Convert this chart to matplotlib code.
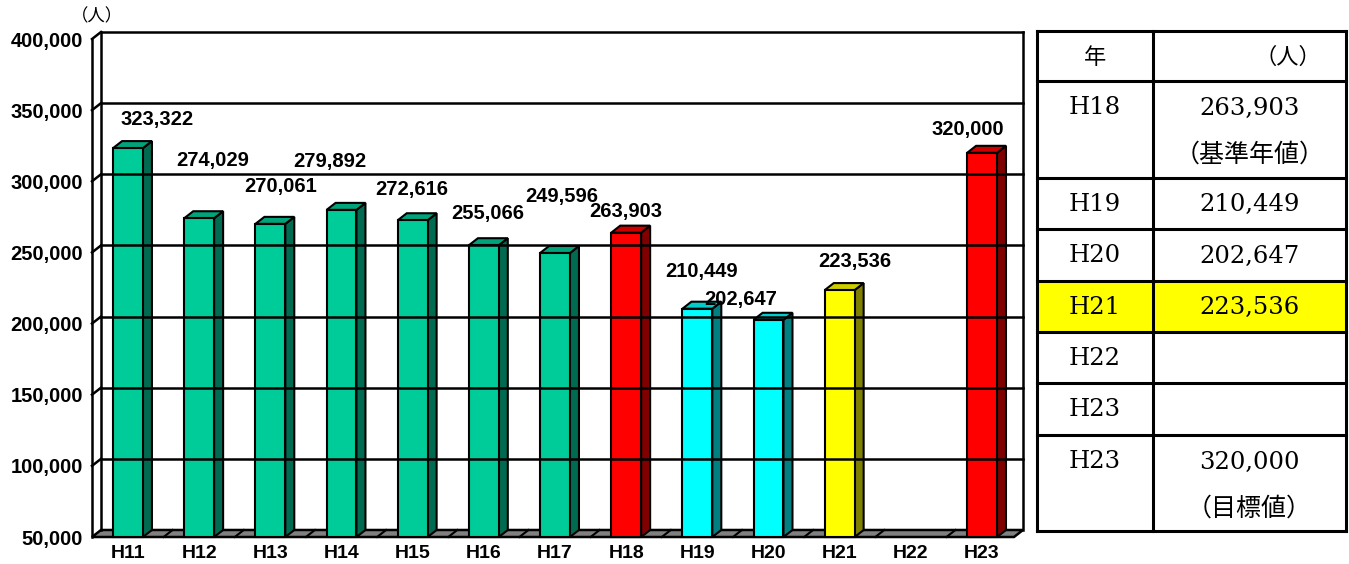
import matplotlib
matplotlib.use("Agg")
import matplotlib.pyplot as plt
from matplotlib.patches import Polygon, Rectangle

# ---- data ----
years = ["H11", "H12", "H13", "H14", "H15", "H16", "H17",
         "H18", "H19", "H20", "H21", "H22", "H23"]
visitors = [323322, 274029, 270061, 279892, 272616, 255066, 249596,
            263903, 210449, 202647, 223536, None, 320000]
y_ticks = [50000, 100000, 150000, 200000, 250000, 300000, 350000, 400000]

table_years = ["H18", "H19", "H20", "H21", "H22", "H23", "H23"]
table_values = ["263,903", "210,449", "202,647", "223,536", "", "", "320,000"]
table_notes = ["（基準年値）", "", "", "", "", "", "（目標値）"]

# ---- style ----
GREEN = ("#00CC99", "#00A37A", "#006B50")
RED = ("#FF0000", "#CC0000", "#800000")
CYAN = ("#00FFFF", "#00CCCC", "#008080")
YELLOW = ("#FFFF00", "#CCCC00", "#808000")
bar_colors = [GREEN] * 7 + [RED, CYAN, CYAN, YELLOW, None, RED]
# label offsets from bar top (pixels, right / up)
label_offsets = [(29, 29), (14, 58), (10, 37), (-12, 48), (-1, 31), (4, 32), (7, 57),
                 (0, 21), (4, 37), (-28, 20), (15, 29), None, (-14, 23)]

W, H = 1349, 564
fig = plt.figure(figsize=(W / 100, H / 100), dpi=100)

step = 71.17                     # px per category
x_lo = (92 - 128) / step
x_hi = (1023 - 128) / step
dx = 9 / step                    # depth offset (x data units)
dy = 4930                        # depth offset (y data units)
bw = 0.42
base = 50000
top = 400000

ax = fig.add_axes([92 / W, (H - 537) / H, (1023 - 92) / W, (537 - 32) / H])
ax.set_xlim(x_lo, x_hi)
ax.set_ylim(base, top + dy)
ax.set_facecolor("none")
for s in ax.spines.values():
    s.set_visible(False)

lw = 1.8
kw = dict(color="black", lw=lw, clip_on=False, solid_capstyle="projecting")
# back wall gridlines and frame
for v in y_ticks[1:]:
    ax.plot([x_lo + dx, x_hi], [v + dy, v + dy], **kw)
    ax.plot([x_lo, x_lo + dx], [v, v + dy], **kw)
ax.plot([x_lo + dx, x_lo + dx], [base + dy, top + dy], **kw)
ax.plot([x_lo, x_lo], [base, top], **kw)
ax.plot([x_hi, x_hi], [base + dy, top + dy], **kw)

# floor
floor = Polygon([(x_lo, base), (x_hi - dx, base), (x_hi, base + dy), (x_lo + dx, base + dy)],
                closed=True, facecolor="#808080", edgecolor="black", lw=lw, clip_on=False)
ax.add_patch(floor)
for i in range(len(years) - 1):
    xb = i + 0.5
    ax.plot([xb, xb + dx], [base, base + dy], color="black", lw=1.5, clip_on=False)

# bars
for i, (v, c) in enumerate(zip(visitors, bar_colors)):
    if v is None:
        continue
    front, topc, side = c
    l, r = i - bw / 2, i + bw / 2
    ax.add_patch(Polygon([(r, base), (r + dx, base + dy), (r + dx, v + dy), (r, v)],
                         facecolor=side, edgecolor="black", lw=1.5, clip_on=False))
    ax.add_patch(Polygon([(l, v), (r, v), (r + dx, v + dy), (l + dx, v + dy)],
                         facecolor=topc, edgecolor="black", lw=1.5, clip_on=False))
    ax.add_patch(Rectangle((l, base), bw, v - base, facecolor=front,
                           edgecolor="black", lw=1.5, clip_on=False))
    ox, oy = label_offsets[i]
    ax.annotate(f"{v:,}", (i, v), xytext=(ox, oy), textcoords="offset pixels",
                ha="center", va="center", fontsize=14.5, fontweight="bold",
                family="Liberation Sans")

ax.set_xticks(range(len(years)))
ax.set_xticklabels(years, fontsize=14, fontweight="bold", family="Liberation Sans")
ax.set_yticks(y_ticks)
ax.set_yticklabels([f"{v:,}" for v in y_ticks], fontsize=14.5, fontweight="bold",
                   family="Liberation Sans")
ax.tick_params(length=0)
ax.tick_params(axis="x", pad=6)
ax.tick_params(axis="y", pad=6.5)

# ---- overlay axes in pixels: unit and table ----
ov = fig.add_axes([0, 0, 1, 1])
ov.set_xlim(0, W)
ov.set_ylim(H, 0)
ov.axis("off")
ov.set_zorder(-1)

cjk = ["DejaVu Serif", "Noto Sans CJK JP"]
ov.text(97, 16, "（人）", fontsize=12.5, family=["Noto Sans CJK JP"], ha="center", va="center")

tx0, tx1, tx2 = 1037, 1153, 1346
rows = [31, 81, 178, 229, 281, 332, 383, 435, 531]
# highlight H21
hi = table_years.index("H21") + 1
ov.add_patch(Rectangle((tx0, rows[hi]), tx2 - tx0, rows[hi + 1] - rows[hi],
                       facecolor="#FFFF00", edgecolor="none"))
for y in rows:
    ov.plot([tx0, tx2], [y, y], color="black", lw=2.2, solid_capstyle="projecting")
for x in (tx0, tx1, tx2):
    ov.plot([x, x], [rows[0], rows[-1]], color="black", lw=2.2, solid_capstyle="projecting")

c1 = (tx0 + tx1) / 2
c2 = (tx1 + tx2) / 2
tfs = 17.5
ov.text(c1, 57, "年", fontsize=16, family=["Noto Sans CJK JP"], ha="center", va="center")
ov.text(1288, 57, "（人）", fontsize=16, family=["Noto Sans CJK JP"], ha="center", va="center")
for k, (yr, val, note) in enumerate(zip(table_years, table_values, table_notes)):
    r0 = rows[k + 1]
    r1 = rows[k + 2]
    if note:
        ty = r0 + 27
    else:
        ty = (r0 + r1) / 2 + 1
    ov.text(c1, ty, yr, fontsize=tfs, family=cjk, ha="center", va="center")
    if val:
        ov.text(c2, ty, val, fontsize=tfs, family=cjk, ha="center", va="center")
    if note:
        ov.text(c2, ty + 47, note, fontsize=18, family=["Noto Sans CJK JP"],
                ha="center", va="center")

fig.savefig("out.png", dpi=100)
